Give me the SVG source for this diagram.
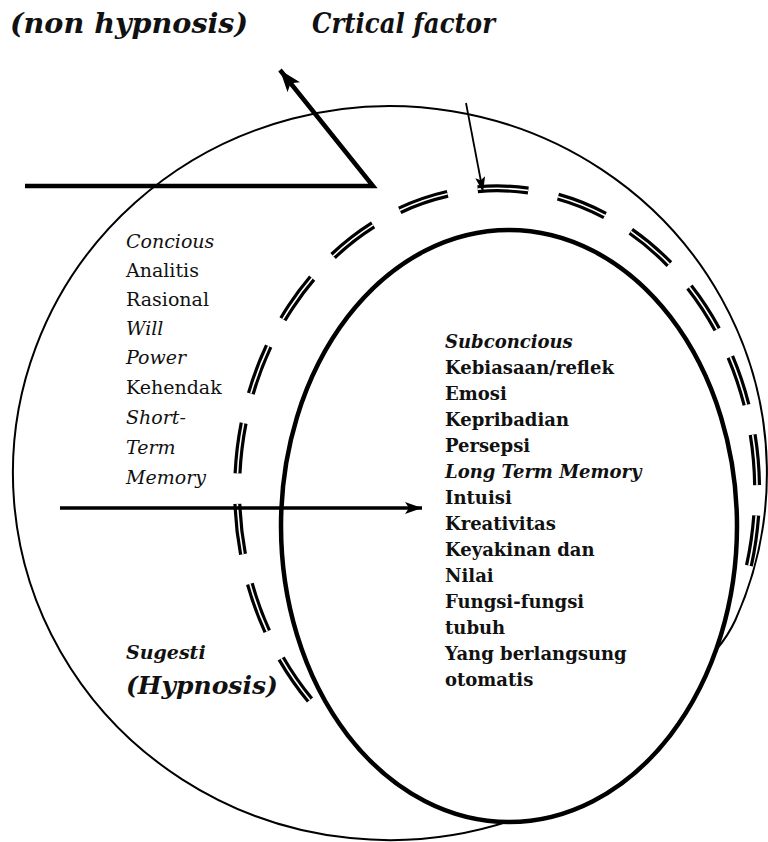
<svg xmlns="http://www.w3.org/2000/svg" width="768" height="842" viewBox="0 0 768 842">
<style>
.t{font-family:"DejaVu Serif","Liberation Serif",serif;fill:#111}
.l{font-size:19px}
.r{font-size:18px;font-weight:bold}
.i{font-style:italic}
.title{font-size:28px;font-weight:bold;font-style:italic}
</style>
<defs>
<marker id="ah" markerUnits="userSpaceOnUse" markerWidth="24" markerHeight="18" refX="22" refY="8" orient="auto"><path d="M0,0 L22,8 L0,16 L5,8 Z" fill="#000"/></marker>
<marker id="ah2" markerUnits="userSpaceOnUse" markerWidth="18" markerHeight="14" refX="17" refY="6" orient="auto"><path d="M0,0 L17,6 L0,12 L4,6 Z" fill="#000"/></marker>
<marker id="ah3" markerUnits="userSpaceOnUse" markerWidth="16" markerHeight="12" refX="15" refY="5" orient="auto"><path d="M0,0 L15,5 L0,10 L3,5 Z" fill="#000"/></marker>
</defs>
<rect width="768" height="842" fill="#fff"/>
<g id="outer-circle"><path d="M 510 821 A 377 367 0 1 1 735.4 620 Q 728 636 716 650" fill="none" stroke="#000" stroke-width="2"/></g>
<g id="critical-factor-ring">
<path d="M 310 700 A 260 302 0 1 1 741 595" pathLength="1200" fill="none" stroke="#000" stroke-width="8" stroke-dasharray="50 30"/>
<path d="M 310 700 A 260 302 0 1 1 741 595" pathLength="1200" fill="none" stroke="#fff" stroke-width="1.6" stroke-dasharray="50 30"/>
</g>
<g id="subconscious-ellipse"><ellipse cx="509" cy="526" rx="228" ry="296" fill="none" stroke="#000" stroke-width="4.5"/></g>
<g id="connectors">
<path d="M 25 186 L 373 186 L 280 70" fill="none" stroke="#000" stroke-width="4.5" marker-end="url(#ah)"/>
<line x1="466" y1="103" x2="483" y2="192" stroke="#000" stroke-width="1.8" marker-end="url(#ah3)"/>
<line x1="60" y1="508" x2="422" y2="508" stroke="#000" stroke-width="3.5" marker-end="url(#ah2)"/>
</g>
<g id="title-non-hypnosis"><text class="t title" x="10" y="33" textLength="238" lengthAdjust="spacingAndGlyphs">(non hypnosis)</text></g>
<g id="title-critical"><text class="t title" x="312" y="33" textLength="183" lengthAdjust="spacingAndGlyphs">Crtical factor</text></g>
<g id="concious-node">
<text class="t l i" x="126" y="248">Concious</text>
<text class="t l" x="126" y="277">Analitis</text>
<text class="t l" x="126" y="306">Rasional</text>
<text class="t l i" x="126" y="335">Will</text>
<text class="t l i" x="126" y="364">Power</text>
<text class="t l" x="126" y="394">Kehendak</text>
<text class="t l i" x="126" y="424">Short-</text>
<text class="t l i" x="126" y="454">Term</text>
<text class="t l i" x="126" y="484">Memory</text>
</g>
<g id="subconcious-node">
<text class="t r i" x="445" y="348">Subconcious</text>
<text class="t r" x="445" y="374">Kebiasaan/reflek</text>
<text class="t r" x="445" y="400">Emosi</text>
<text class="t r" x="445" y="426">Kepribadian</text>
<text class="t r" x="445" y="452">Persepsi</text>
<text class="t r i" x="445" y="478">Long Term Memory</text>
<text class="t r" x="445" y="504">Intuisi</text>
<text class="t r" x="445" y="530">Kreativitas</text>
<text class="t r" x="445" y="556">Keyakinan dan</text>
<text class="t r" x="445" y="582">Nilai</text>
<text class="t r" x="445" y="608">Fungsi-fungsi</text>
<text class="t r" x="445" y="634">tubuh</text>
<text class="t r" x="445" y="660">Yang berlangsung</text>
<text class="t r" x="445" y="686">otomatis</text>
</g>
<g id="sugesti-node">
<text class="t i" x="126" y="659" font-size="19" font-weight="bold">Sugesti</text>
<text class="t i" x="126" y="694" font-size="25" font-weight="bold">(Hypnosis)</text>
</g>
</svg>
